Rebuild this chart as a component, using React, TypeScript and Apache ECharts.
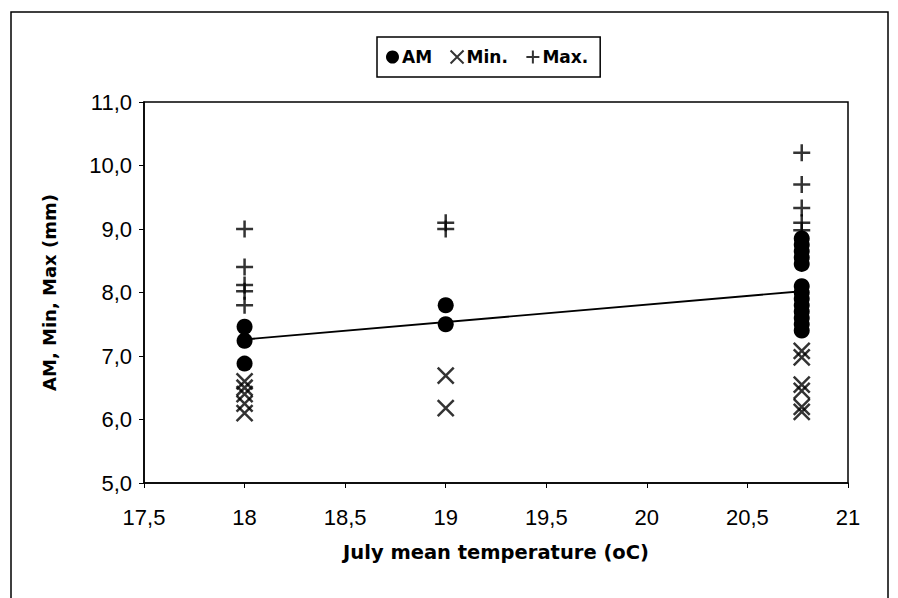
import React, { useEffect, useRef } from "react";
import * as echarts from "echarts";

const xGroups = [18, 19, 20.77];
const amValues = [
  [7.46, 7.24, 6.88],
  [7.8, 7.5],
  [8.85, 8.75, 8.65, 8.55, 8.45, 8.1, 8.0, 7.9, 7.8, 7.7, 7.6, 7.5, 7.4],
];
const minValues = [
  [6.6, 6.5, 6.4, 6.25, 6.1],
  [6.69, 6.18],
  [7.08, 6.98, 6.55, 6.45, 6.2, 6.12],
];
const maxValues = [
  [9.0, 8.4, 8.12, 8.02, 7.8],
  [9.1, 9.0],
  [10.2, 9.7, 9.33, 9.1, 8.98],
];
const trendX = [18, 20.77];
const trendY = [7.26, 8.02];
const legendNames = ["AM", "Min.", "Max."];

const toPoints = (groups: number[][]) =>
  groups.flatMap((vals, i) => vals.map((v) => [xGroups[i], v]));

const CROSS = "path://M0,0 L10,10 M10,0 L0,10";
const PLUS = "path://M5,0 L5,10 M0,5 L10,5";
const FONT = "'Liberation Sans', Arial, sans-serif";
const BOLDFONT = "'DejaVu Sans', 'Liberation Sans', sans-serif";

export default function App() {
  const ref = useRef<HTMLDivElement>(null);
  useEffect(() => {
    if (!ref.current) return;
    const chart = echarts.init(ref.current, undefined, { renderer: "svg" });
    chart.setOption({
      animation: false,
      backgroundColor: "#fff",
      textStyle: { fontFamily: FONT, color: "#000" },
      graphic: [
        {
          type: "rect",
          shape: { x: 11, y: 12, width: 877, height: 600 },
          style: { fill: "none", stroke: "#000", lineWidth: 1.5 },
          silent: true,
        },
      ],
      legend: {
        left: 377,
        top: 37,
        data: legendNames,
        orient: "horizontal",
        borderColor: "#000",
        borderWidth: 1.5,
        padding: [11, 12, 11, 9],
        itemGap: 16,
        itemWidth: 13,
        itemHeight: 13,
        textStyle: {
          fontFamily: BOLDFONT,
          fontSize: 17,
          color: "#000",
          fontWeight: "bold",
          padding: [0, 0, 0, -2],
        },
      },
      grid: {
        left: 144,
        right: 50,
        top: 102,
        bottom: 115,
        show: true,
        borderColor: "#000",
        borderWidth: 1.5,
        backgroundColor: "transparent",
      },
      xAxis: {
        type: "value",
        min: 17.5,
        max: 21,
        interval: 0.5,
        name: "July mean temperature (oC)",
        nameLocation: "middle",
        nameGap: 59,
        nameTextStyle: { fontFamily: BOLDFONT, fontSize: 19.5, fontWeight: "bold", color: "#000" },
        axisLine: { show: true, lineStyle: { color: "#000", width: 1.5 } },
        axisTick: { show: true, length: 5, lineStyle: { color: "#000" } },
        axisLabel: {
          fontFamily: FONT,
          fontSize: 22,
          color: "#000",
          margin: 23,
          formatter: (v: number) => String(v).replace(".", ","),
        },
        splitLine: { show: false },
      },
      yAxis: {
        type: "value",
        min: 5,
        max: 11,
        interval: 1,
        name: "AM, Min, Max (mm)",
        nameLocation: "middle",
        nameGap: 86,
        nameTextStyle: { fontFamily: BOLDFONT, fontSize: 18, fontWeight: "bold", color: "#000" },
        axisLine: { show: true, lineStyle: { color: "#000", width: 1.5 } },
        axisTick: { show: true, length: 5, lineStyle: { color: "#000" } },
        axisLabel: {
          fontFamily: FONT,
          fontSize: 22,
          color: "#000",
          margin: 12,
          formatter: (v: number) => v.toFixed(1).replace(".", ","),
        },
        splitLine: { show: false },
      },
      series: [
        {
          name: "AM",
          type: "scatter",
          symbol: "circle",
          symbolSize: 16,
          itemStyle: { color: "#000", opacity: 1 },
          data: toPoints(amValues),
          z: 3,
        },
        {
          name: "Min.",
          type: "scatter",
          symbol: CROSS,
          symbolSize: 16,
          itemStyle: { color: "none", borderColor: "#000", borderWidth: 2.5 },
          data: toPoints(minValues),
          z: 4,
        },
        {
          name: "Max.",
          type: "scatter",
          symbol: PLUS,
          symbolSize: 17,
          itemStyle: { color: "none", borderColor: "#000", borderWidth: 2.5 },
          data: toPoints(maxValues),
          z: 4,
        },
        {
          name: "trend",
          type: "line",
          showSymbol: false,
          symbol: "none",
          lineStyle: { color: "#000", width: 1.8 },
          data: trendX.map((x, i) => [x, trendY[i]]),
          z: 2,
        },
      ],
    });
    return () => chart.dispose();
  }, []);
  return <div ref={ref} style={{ width: 898, height: 598, position: "absolute", left: 0, top: 0 }} />;
}
